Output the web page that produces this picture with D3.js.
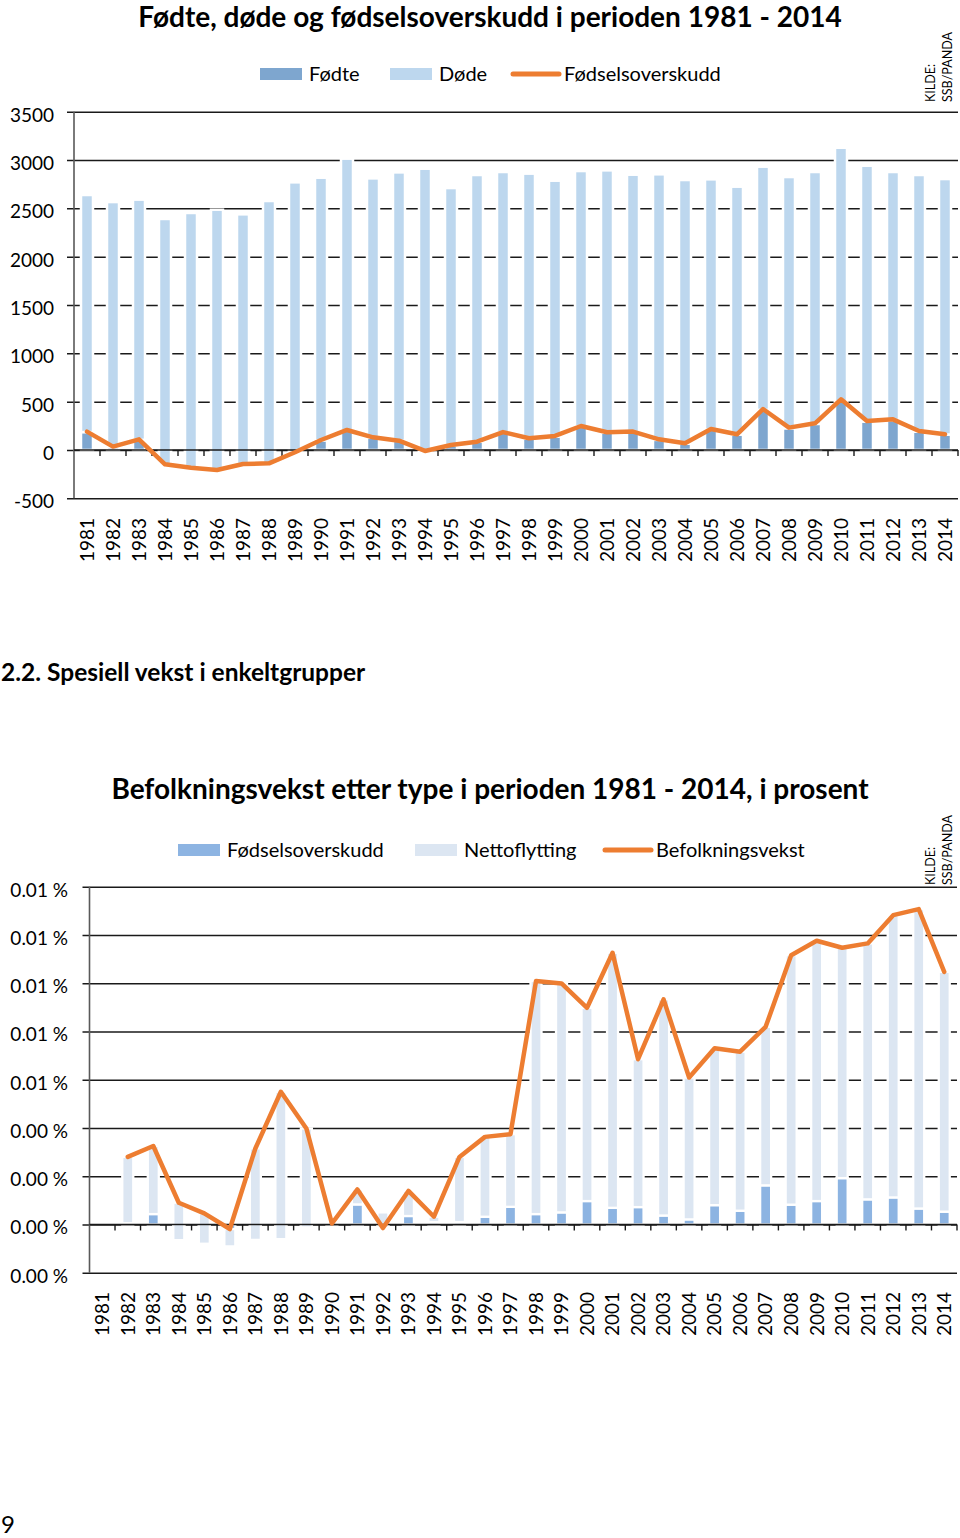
<!DOCTYPE html>
<html>
<head>
<meta charset="utf-8">
<script src="https://cdn.jsdelivr.net/npm/d3@7"></script>
<style>
  body { margin: 0; background: #fff; }
  text { font-family: Lato, "Open Sans", sans-serif; fill: #000; }
</style>
</head>
<body>
<div id="page"></div>
<script>
// years on the x axis (both charts)
var years = [1981, 1982, 1983, 1984, 1985, 1986, 1987, 1988, 1989, 1990,
  1991, 1992, 1993, 1994, 1995, 1996, 1997, 1998, 1999, 2000,
  2001, 2002, 2003, 2004, 2005, 2006, 2007, 2008, 2009, 2010,
  2011, 2012, 2013, 2014];

// chart 1
var fodte = [185, 30, 105, -150, -185, -205, -145, -140, -25, 100,
  200, 130, 95, -10, 50, 85, 180, 120, 140, 245,
  180, 185, 105, 65, 210, 160, 415, 225, 270, 500,
  295, 310, 190, 160];
var dode = [2453, 2535, 2485, 2540, 2637, 2691, 2583, 2716, 2794, 2717,
  2814, 2680, 2777, 2920, 2660, 2760, 2696, 2739, 2646, 2641,
  2713, 2663, 2747, 2728, 2590, 2564, 2516, 2599, 2606, 2627,
  2646, 2566, 2655, 2643];
var overskudd = [190, 35, 110, -148, -183, -207, -145, -138, -24, 103,
  207, 131, 96, -10, 52, 86, 185, 121, 145, 248,
  183, 190, 110, 69, 217, 162, 424, 231, 276, 524,
  300, 317, 196, 162];
var ticks1 = [-500, 0, 500, 1000, 1500, 2000, 2500, 3000, 3500];

// chart 2 - no value for 1981
var fodselsoverskudd = [null, 0.00005, 0.00043, -0.00065, -0.0008, -0.00091, -0.00064, -0.00061, -0.00012, 0.00004,
  0.00083, 0.0005, 0.00035, 0.0001, 0.0001, 0.00032, 0.00073, 0.00043, 0.0005, 0.00097,
  0.00069, 0.00072, 0.00037, 0.00021, 0.0008, 0.00057, 0.00162, 0.00082, 0.00097, 0.00192,
  0.00104, 0.00112, 0.00066, 0.00053];
var nettoflytting = [null, 0.00275, 0.00282, 0.00155, 0.00126, 0.00072, 0.00379, 0.00611, 0.0041, 0.0,
  0.00062, -0.00065, 0.00104, 0.00022, 0.0027, 0.00331, 0.00301, 0.00966, 0.00949, 0.00801,
  0.01057, 0.00613, 0.00896, 0.00588, 0.0065, 0.00659, 0.00657, 0.01034, 0.01079, 0.00955,
  0.01061, 0.0117, 0.01241, 0.00994];
var befolkningsvekst = [null, 0.0028, 0.00325, 0.0009, 0.00046, -0.00019, 0.00315, 0.0055, 0.00398, 0.00004,
  0.00145, -0.00015, 0.00139, 0.00032, 0.0028, 0.00363, 0.00374, 0.01009, 0.00999, 0.00898,
  0.01126, 0.00685, 0.00933, 0.00609, 0.0073, 0.00716, 0.00819, 0.01116, 0.01176, 0.01147,
  0.01165, 0.01282, 0.01307, 0.01047];
var ticks2 = [-0.002, 0, 0.002, 0.004, 0.006, 0.008, 0.01, 0.012, 0.014];

var svg = d3.select("#page")
  .append("svg")
  .attr("width", 960)
  .attr("height", 1538);

svg.append("rect").attr("width", 960).attr("height", 1538).attr("fill", "#fff");

// draws one stacked chart: dark bar from 0, light bar stacked on top of it, line over both
function drawChart(c) {
  var x = d3.scaleBand().domain(years).range([c.left, c.right]);
  var y = d3.scaleLinear().domain(c.domain).range([c.bottom, c.top]);
  var rows = years.map(function(yr, i) {
    return { year: yr, base: c.base[i], stack: c.stack[i], line: c.line[i] };
  });
  var g = svg.append("g");

  // gridlines + y labels
  var yAxis = g.append("g")
    .attr("transform", "translate(" + c.left + ",0)")
    .call(d3.axisLeft(y).tickValues(c.ticks).tickSizeInner(-(c.right - c.left)).tickSizeOuter(0)
      .tickPadding(c.labelPad).tickFormat(c.format));
  yAxis.select(".domain").remove();
  yAxis.selectAll("line").attr("x1", -7).attr("stroke", "#1a1a1a").attr("stroke-width", 1.5);
  yAxis.selectAll("text")
    .attr("font-size", 19)
    .attr("font-family", "Lato")
    .attr("fill", "#000")
    .attr("dy", "0.5em");

  var bars = rows.filter(function(d) { return d.base != null; });

  // dark bars
  g.selectAll(".dark")
    .data(bars)
    .enter()
    .append("rect")
    .attr("x", function(d) { return x(d.year) + (x.bandwidth() - c.barW) / 2; })
    .attr("width", c.barW)
    .attr("y", function(d) { return y(Math.max(0, d.base)); })
    .attr("height", function(d) { return Math.abs(y(0) - y(d.base)); })
    .attr("fill", c.dark)
    .attr("stroke", "#fff")
    .attr("stroke-width", c.barStroke);

  // light bars stacked on the dark value
  g.selectAll(".light")
    .data(bars)
    .enter()
    .append("rect")
    .attr("x", function(d) { return x(d.year) + (x.bandwidth() - c.barW) / 2; })
    .attr("width", c.barW)
    .attr("y", function(d) { return y(Math.max(d.base, d.base + d.stack)); })
    .attr("height", function(d) { return Math.abs(y(d.base) - y(d.base + d.stack)); })
    .attr("fill", c.light)
    .attr("stroke", "#fff")
    .attr("stroke-width", c.barStroke);

  // y axis line
  g.append("line")
    .attr("x1", c.left).attr("x2", c.left)
    .attr("y1", c.top).attr("y2", c.bottom)
    .attr("stroke", "#595959").attr("stroke-width", 1.6);

  // x axis at zero with ticks between categories
  g.append("line")
    .attr("x1", c.left).attr("x2", c.right)
    .attr("y1", y(0)).attr("y2", y(0))
    .attr("stroke", "#1a1a1a").attr("stroke-width", 1.6);
  g.selectAll(".xtick")
    .data(years)
    .enter()
    .append("line")
    .attr("x1", function(d) { return x(d) + x.bandwidth(); })
    .attr("x2", function(d) { return x(d) + x.bandwidth(); })
    .attr("y1", y(0))
    .attr("y2", y(0) + 6)
    .attr("stroke", "#1a1a1a").attr("stroke-width", 1.4);

  // year labels
  g.selectAll(".year")
    .data(years)
    .enter()
    .append("text")
    .attr("transform", function(d) { return "translate(" + (x(d) + x.bandwidth() / 2) + "," + c.yearTop + ") rotate(-90)"; })
    .attr("text-anchor", "end")
    .attr("dy", "0.36em")
    .attr("font-size", 19)
    .text(function(d) { return d; });

  // line
  var line = d3.line()
    .defined(function(d) { return d.line != null; })
    .x(function(d) { return x(d.year) + x.bandwidth() / 2; })
    .y(function(d) { return y(d.line); });
  g.append("path")
    .datum(rows)
    .attr("d", line)
    .attr("fill", "none")
    .attr("stroke", "#ED7D31")
    .attr("stroke-width", 4.5)
    .attr("stroke-linejoin", "round")
    .attr("stroke-linecap", "round");

  // title
  g.append("text")
    .attr("x", c.titleX)
    .attr("y", c.titleY)
    .attr("text-anchor", "middle")
    .attr("font-size", c.titleSize)
    .attr("font-weight", "bold")
    .text(c.title);

  // legend
  var lg = g.append("g").attr("transform", "translate(0," + c.legendY + ")");
  lg.append("rect").attr("x", c.legendX[0]).attr("y", -6).attr("width", 42).attr("height", 12).attr("fill", c.dark);
  lg.append("text").attr("x", c.legendX[0] + 49).attr("dy", "0.35em").attr("font-size", 20).text(c.names[0]);
  lg.append("rect").attr("x", c.legendX[1]).attr("y", -6).attr("width", 42).attr("height", 12).attr("fill", c.light);
  lg.append("text").attr("x", c.legendX[1] + 49).attr("dy", "0.35em").attr("font-size", 20).text(c.names[1]);
  lg.append("line").attr("x1", c.legendX[2]).attr("x2", c.legendX[2] + 46).attr("y1", 0).attr("y2", 0)
    .attr("stroke", "#ED7D31").attr("stroke-width", 5).attr("stroke-linecap", "round");
  lg.append("text").attr("x", c.legendX[2] + 51).attr("dy", "0.35em").attr("font-size", 20).text(c.names[2]);

  // source note, vertical
  g.append("text")
    .attr("transform", "translate(" + (c.sourceX) + "," + c.sourceY + ") rotate(-90)")
    .attr("font-size", 12.5)
    .text("KILDE:");
  g.append("text")
    .attr("transform", "translate(" + (c.sourceX + 17) + "," + c.sourceY + ") rotate(-90)")
    .attr("font-size", 12.5)
    .text("SSB/PANDA");
}

drawChart({
  left: 74, right: 958, top: 111.7, bottom: 498.3,
  domain: [-500, 3500], ticks: ticks1, labelPad: 20,
  format: function(d) { return d; },
  base: fodte, stack: dode, line: overskudd,
  dark: "#7EA6CF", light: "#BDD7EE", barW: 12, barStroke: 2.5,
  yearTop: 518,
  title: "Fødte, døde og fødselsoverskudd i perioden 1981 - 2014", titleX: 490, titleY: 27, titleSize: 28,
  legendY: 74, legendX: [260, 390, 513],
  names: ["Fødte", "Døde", "Fødselsoverskudd"],
  sourceX: 935, sourceY: 102
});

// section heading between the charts
svg.append("text")
  .attr("x", 1)
  .attr("y", 681)
  .attr("font-size", 24.5)
  .attr("font-weight", "bold")
  .text("2.2. Spesiell vekst i enkeltgrupper");

drawChart({
  left: 89.5, right: 957, top: 886.7, bottom: 1272.7,
  domain: [-0.002, 0.014], ticks: ticks2, labelPad: 21.5,
  format: function(d) { return Math.abs(d).toFixed(2) + " %"; },
  base: fodselsoverskudd, stack: nettoflytting, line: befolkningsvekst,
  dark: "#8DB4E2", light: "#DCE6F2", barW: 11, barStroke: 2.3,
  yearTop: 1292,
  title: "Befolkningsvekst etter type i perioden 1981 - 2014, i prosent", titleX: 490, titleY: 799, titleSize: 28,
  legendY: 850, legendX: [178, 415, 605],
  names: ["Fødselsoverskudd", "Nettoflytting", "Befolkningsvekst"],
  sourceX: 935, sourceY: 885
});

// page number
svg.append("text")
  .attr("x", 1)
  .attr("y", 1533)
  .attr("font-size", 24)
  .text("9");
</script>
</body>
</html>
